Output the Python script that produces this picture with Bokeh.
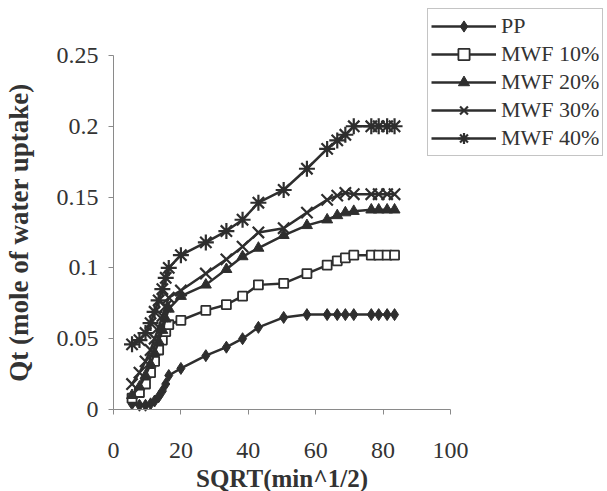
from bokeh.plotting import figure
from bokeh.models import Legend, LegendItem, FixedTicker, Range1d
from bokeh.embed import file_html
from bokeh.resources import INLINE

# SQRT(time) values (x axis)
sqrt_t = [5.5, 7.7, 9.5, 11.0, 12.2, 13.4, 14.5, 15.5, 16.4, 20.0, 27.4, 33.5, 38.3,
          43.0, 50.5, 57.4, 63.4, 66.4, 68.8, 71.3, 76.5, 78.7, 81.2, 83.4]

pp = [0.004, 0.003, 0.003, 0.004, 0.006, 0.009, 0.013, 0.018, 0.024, 0.029, 0.038, 0.044,
      0.050, 0.058, 0.065, 0.067, 0.067, 0.067, 0.067, 0.067, 0.067, 0.067, 0.067, 0.067]
mwf10 = [0.008, 0.012, 0.018, 0.026, 0.034, 0.042, 0.049, 0.055, 0.060, 0.063, 0.070, 0.074,
         0.080, 0.088, 0.089, 0.096, 0.102, 0.105, 0.107, 0.109, 0.109, 0.109, 0.109, 0.109]
mwf20 = [0.010, 0.016, 0.024, 0.032, 0.040, 0.048, 0.056, 0.064, 0.071, 0.080, 0.088, 0.099,
         0.108, 0.114, 0.123, 0.130, 0.134, 0.137, 0.139, 0.140, 0.141, 0.141, 0.141, 0.141]
mwf30 = [0.018, 0.026, 0.034, 0.042, 0.050, 0.058, 0.066, 0.073, 0.079, 0.084, 0.096, 0.106,
         0.115, 0.125, 0.128, 0.139, 0.148, 0.151, 0.153, 0.152, 0.152, 0.152, 0.152, 0.152]
mwf40 = [0.046, 0.049, 0.054, 0.061, 0.069, 0.077, 0.085, 0.093, 0.100, 0.109, 0.118, 0.126,
         0.134, 0.146, 0.155, 0.170, 0.184, 0.190, 0.194, 0.200, 0.200, 0.200, 0.200, 0.200]

series_names = ["PP", "MWF 10%", "MWF 20%", "MWF 30%", "MWF 40%"]
series_values = [pp, mwf10, mwf20, mwf30, mwf40]

y_ticks = [0, 0.05, 0.1, 0.15, 0.2, 0.25]
y_tick_labels = ["0", "0.05", "0.1", "0.15", "0.2", "0.25"]
x_ticks = [0, 20, 40, 60, 80, 100]
x_axis_bounds = (0, 100)
y_axis_bounds = (0, 0.25)

FONT = "Liberation Serif"
INK = "#2e2e2e"
TXT = "#333333"

# The frame fills the whole figure so that the legend and the axis texts are not
# clipped; both axes are pinned at 0 and bounded to 0-100 / 0-0.25.
p = figure(width=607, height=491, output_backend="svg", toolbar_location=None,
           x_range=Range1d(-33.53, 146.59), y_range=Range1d(-0.0579, 0.2888),
           min_border_left=0, min_border_right=0, min_border_top=0, min_border_bottom=0)
p.outline_line_color = None
p.xgrid.visible = False
p.ygrid.visible = False
p.background_fill_color = "white"
p.border_fill_color = "white"

for ax in (p.xaxis[0], p.yaxis[0]):
    ax.axis_line_color = "#8a8a8a"
    ax.axis_line_width = 1
    ax.major_tick_line_color = "#8a8a8a"
    ax.major_tick_out = 5
    ax.major_tick_in = 0
    ax.minor_tick_line_color = None
    ax.major_label_text_font = FONT
    ax.major_label_text_font_size = "24px"
    ax.major_label_text_color = TXT
    ax.axis_label_text_font = FONT
    ax.axis_label_text_font_style = "bold"
    ax.axis_label_text_color = TXT

p.xaxis.fixed_location = 0
p.yaxis.fixed_location = 0
p.xaxis.bounds = x_axis_bounds
p.yaxis.bounds = y_axis_bounds
p.xaxis.ticker = FixedTicker(ticks=x_ticks)
p.yaxis.ticker = FixedTicker(ticks=y_ticks)
p.yaxis.major_label_overrides = {t: l for t, l in zip(y_ticks, y_tick_labels)}
p.xaxis.axis_label = "SQRT(min^1/2)"
p.yaxis.axis_label = "Qt (mole of water uptake)"
p.xaxis.axis_label_text_font_size = "25px"
p.yaxis.axis_label_text_font_size = "27px"
p.xaxis.major_label_standoff = 28
p.xaxis.axis_label_standoff = 4
p.yaxis.major_label_standoff = 10
p.yaxis.axis_label_standoff = 20

markers = [
    dict(marker="diamond", size=12, fill_color=INK, line_color=INK, line_width=1),
    dict(marker="square", size=9, fill_color="white", line_color=INK, line_width=1.8),
    dict(marker="triangle", size=11, fill_color=INK, line_color=INK, line_width=1),
    dict(marker="x", size=16, fill_color=None, line_color=INK, line_width=2.2),
    dict(marker="asterisk", size=16, fill_color=None, line_color=INK, line_width=2.2),
]

items = []
for name, vals, mk in zip(series_names, series_values, markers):
    lr = p.line(sqrt_t, vals, line_color=INK, line_width=2.5)
    sr = p.scatter(sqrt_t, vals, **mk)
    items.append(LegendItem(label=name, renderers=[lr, sr]))

legend = Legend(items=items, location=(427, 335))
legend.label_text_font = FONT
legend.label_text_font_size = "22px"
legend.label_text_color = TXT
legend.glyph_width = 65
legend.glyph_height = 28
legend.label_height = 28
legend.label_standoff = 5
legend.spacing = 0
legend.padding = 3
legend.margin = 0
legend.border_line_color = "#8a8a8a"
legend.border_line_width = 1
legend.background_fill_color = "white"
legend.background_fill_alpha = 1
p.add_layout(legend, "center")

open("out.html", "w").write(file_html(p, INLINE))
